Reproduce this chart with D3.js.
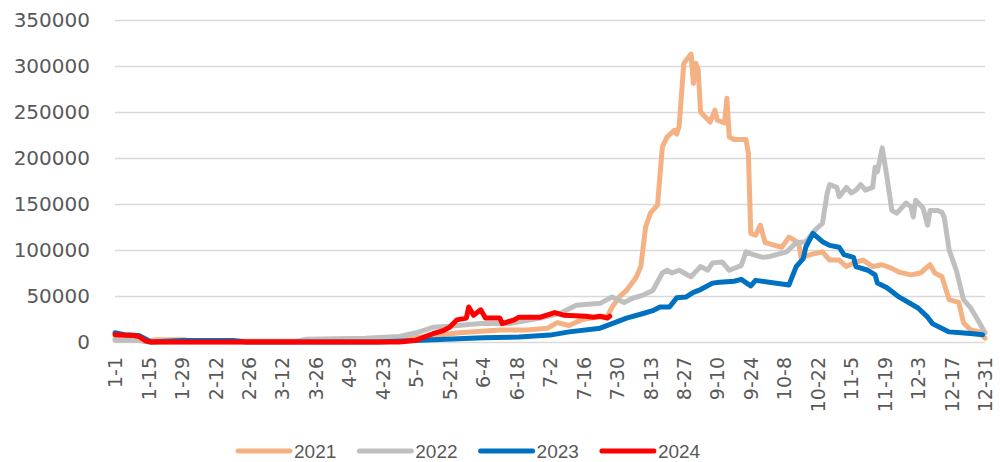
<!DOCTYPE html>
<html>
<head>
<meta charset="utf-8">
<script src="https://cdn.jsdelivr.net/npm/d3@7"></script>
<style>
  body { margin: 0; background: #fff; }
  svg { display: block; }
  .tick text { fill: #595959; }
</style>
</head>
<body>
<svg id="chart" width="1000" height="462"></svg>
<script>
// x轴刻度标签
var tickLabels = ['1-1', '1-15', '1-29', '2-12', '2-26', '3-12', '3-26', '4-9', '4-23', '5-7', '5-21', '6-4',
  '6-18', '7-2', '7-16', '7-30', '8-13', '8-27', '9-10', '9-24', '10-8', '10-22', '11-5', '11-19', '12-3', '12-17', '12-31'];
var yTicks = [0, 50000, 100000, 150000, 200000, 250000, 300000, 350000];
var years = ['2021', '2022', '2023', '2024'];
var colors = ['#F4B183', '#BFBFBF', '#0070C0', '#FF0000'];

// 各年数据 [日期, 数值]
var data2021 = [['1-1', 3000], ['1-9', 2500], ['1-14', 500], ['1-18', 2500], ['1-30', 2500], ['2-1', 1000], ['4-11', 1000],
  ['5-1', 3000], ['5-11', 6000], ['5-25', 10000], ['6-11', 13000], ['6-22', 13000], ['7-1', 15000], ['7-5', 21000],
  ['7-10', 18000], ['7-15', 24000], ['7-19', 26000], ['7-26', 28000], ['7-28', 38000], ['7-31', 49000], ['8-3', 56000],
  ['8-7', 70000], ['8-9', 82000], ['8-11', 125000], ['8-13', 140000], ['8-16', 149000], ['8-18', 212000], ['8-20', 223000],
  ['8-23', 230000], ['8-24', 226000], ['8-25', 234000], ['8-27', 303000], ['8-30', 313000], ['8-31', 281000], ['9-1', 303000],
  ['9-2', 296000], ['9-3', 250000], ['9-7', 239000], ['9-9', 252000], ['9-10', 241000], ['9-13', 238000], ['9-14', 265000],
  ['9-15', 223000], ['9-17', 220000], ['9-22', 220000], ['9-23', 205000], ['9-24', 118000], ['9-26', 116000], ['9-28', 127000],
  ['9-30', 108000], ['10-7', 103000], ['10-10', 114000], ['10-14', 108000], ['10-15', 92000], ['10-19', 95000], ['10-22', 97000],
  ['10-24', 98000], ['10-27', 89000], ['10-31', 89000], ['11-3', 82000], ['11-7', 87000], ['11-10', 89000], ['11-14', 82000],
  ['11-18', 84000], ['11-22', 80000], ['11-25', 76000], ['11-30', 73000], ['12-4', 75000], ['12-8', 84000], ['12-10', 75000],
  ['12-13', 71000], ['12-16', 46000], ['12-20', 43000], ['12-22', 21000], ['12-25', 13000], ['12-29', 11000], ['12-31', 4000]];

var data2022 = [['1-1', 2000], ['1-11', 2000], ['1-15', 0], ['3-17', 0], ['3-22', 3000], ['4-16', 4000], ['4-30', 6000],
  ['5-7', 10000], ['5-14', 16000], ['5-21', 17000], ['6-3', 20000], ['6-15', 20000], ['6-28', 26000], ['7-6', 31000],
  ['7-13', 40000], ['7-23', 42000], ['7-28', 49000], ['8-2', 43000], ['8-6', 48000], ['8-10', 51000], ['8-14', 56000],
  ['8-18', 75000], ['8-20', 78000], ['8-22', 75000], ['8-25', 78000], ['8-30', 71000], ['9-3', 82000], ['9-6', 78000],
  ['9-8', 86000], ['9-12', 87000], ['9-15', 78000], ['9-20', 83000], ['9-22', 98000], ['9-25', 95000], ['9-29', 92000],
  ['10-2', 93000], ['10-9', 98000], ['10-13', 108000], ['10-17', 109000], ['10-21', 122000], ['10-24', 129000], ['10-26', 162000],
  ['10-27', 171000], ['10-30', 168000], ['10-31', 158000], ['11-3', 168000], ['11-5', 162000], ['11-7', 165000], ['11-9', 171000],
  ['11-11', 165000], ['11-14', 168000], ['11-15', 190000], ['11-16', 185000], ['11-18', 211000], ['11-20', 179000],
  ['11-22', 143000], ['11-24', 140000], ['11-28', 151000], ['11-30', 147000], ['12-1', 136000], ['12-2', 154000],
  ['12-5', 146000], ['12-7', 127000], ['12-8', 143000], ['12-11', 143000], ['12-13', 141000], ['12-14', 135000],
  ['12-16', 100000], ['12-19', 78000], ['12-22', 46000], ['12-25', 37000], ['12-28', 24000], ['12-31', 10000]];

var data2023 = [['1-1', 10000], ['1-5', 8000], ['1-11', 7000], ['1-14', 3000], ['1-16', 0], ['1-29', 1500], ['2-20', 1500],
  ['2-25', 0], ['4-21', 0], ['5-9', 2000], ['6-4', 4500], ['6-19', 5500], ['7-2', 7500], ['7-10', 11000], ['7-23', 15000],
  ['7-28', 20000], ['8-3', 26000], ['8-10', 31000], ['8-14', 34000], ['8-17', 38000], ['8-21', 38000], ['8-24', 48000],
  ['8-28', 49000], ['8-31', 54000], ['9-3', 57000], ['9-8', 64000], ['9-11', 65000], ['9-17', 66000], ['9-20', 68000],
  ['9-24', 61000], ['9-26', 67000], ['10-10', 62000], ['10-13', 82000], ['10-16', 91000], ['10-17', 103000], ['10-20', 118000],
  ['10-24', 109000], ['10-27', 105000], ['10-31', 103000], ['11-2', 95000], ['11-6', 92000], ['11-7', 82000], ['11-12', 78000],
  ['11-15', 73000], ['11-16', 64000], ['11-20', 59000], ['11-25', 49000], ['12-3', 37000], ['12-7', 27000], ['12-9', 20000],
  ['12-12', 16000], ['12-16', 11000], ['12-21', 10000], ['12-26', 9000], ['12-30', 8000]];

var data2024 = [['1-1', 8000], ['1-9', 7000], ['1-11', 6000], ['1-14', 1000], ['1-16', 0], ['4-30', 0], ['5-7', 2000],
  ['5-14', 9000], ['5-18', 12000], ['5-21', 16000], ['5-24', 24000], ['5-28', 26000], ['5-29', 38000], ['5-31', 29000],
  ['6-3', 35000], ['6-5', 26000], ['6-11', 26000], ['6-12', 20000], ['6-17', 24000], ['6-19', 27000], ['6-28', 27000],
  ['7-4', 32000], ['7-8', 29000], ['7-17', 28000], ['7-20', 27000], ['7-23', 28000], ['7-26', 26000], ['7-27', 28000]];

var series = [data2021, data2022, data2023, data2024];

//日期统一放到同一年的时间轴上
var parseDay = d3.timeParse('%Y-%m-%d');
function toDate(s) { return parseDay('2021-' + s); }

var svg = d3.select('#chart');
var x = d3.scaleTime()
  .domain([toDate('1-1'), toDate('12-31')])
  .range([115, 985]);
var y = d3.scaleLinear()
  .domain([0, 350000])
  .range([342, 20]);

//网格线和y轴
var yAxis = svg.append('g')
  .attr('transform', 'translate(115,0)')
  .call(d3.axisLeft(y).tickValues(yTicks).tickSize(-870).tickPadding(25).tickFormat(d3.format('d')));
yAxis.select('.domain').remove();
yAxis.selectAll('.tick line').attr('stroke', '#d9d9d9').attr('stroke-width', 1.5);
yAxis.selectAll('.tick text')
  .style('font-family', 'DejaVu Sans')
  .style('font-size', '20px');

//x轴
var xAxis = svg.append('g')
  .attr('transform', 'translate(0,342)')
  .call(d3.axisBottom(x).tickValues(tickLabels.map(toDate)).tickSize(0)
    .tickFormat(function(d, i) { return tickLabels[i]; }));
xAxis.select('.domain').remove();
xAxis.selectAll('.tick text')
  .style('font-family', 'DejaVu Sans')
  .style('font-size', '19px')
  .attr('text-anchor', 'end')
  .attr('transform', 'rotate(-90)')
  .attr('x', -15)
  .attr('y', 0)
  .attr('dy', '0.35em');

//折线
var line = d3.line()
  .x(function(d) { return x(toDate(d[0])); })
  .y(function(d) { return y(d[1]); });

svg.selectAll('.series')
  .data(series)
  .enter()
  .append('path')
  .attr('class', 'series')
  .attr('fill', 'none')
  .attr('stroke', function(d, i) { return colors[i]; })
  .attr('stroke-width', 5)
  .attr('stroke-linejoin', 'round')
  .attr('stroke-linecap', 'round')
  .attr('d', line);

//图例
var legend = svg.selectAll('.legend')
  .data(years)
  .enter()
  .append('g')
  .attr('class', 'legend')
  .attr('transform', function(d, i) { return 'translate(' + (238 + i * 121.3) + ',451)'; });
legend.append('line')
  .attr('x1', 0).attr('x2', 52)
  .attr('stroke', function(d, i) { return colors[i]; })
  .attr('stroke-width', 5)
  .attr('stroke-linecap', 'round');
legend.append('text')
  .attr('x', 56)
  .attr('dy', '0.35em')
  .style('font-family', 'Liberation Sans')
  .style('font-size', '19px')
  .style('fill', '#595959')
  .text(function(d) { return d; });
</script>
</body>
</html>
